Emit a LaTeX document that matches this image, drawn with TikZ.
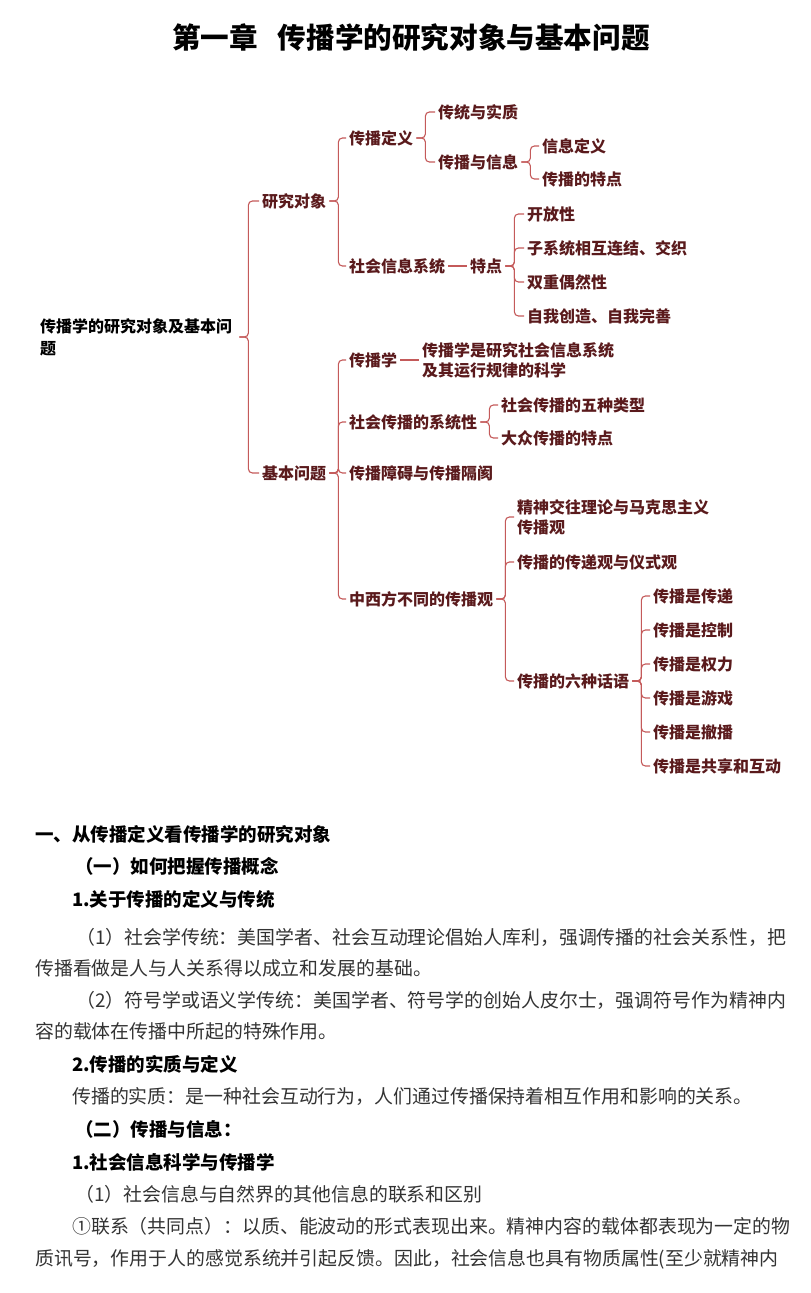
\documentclass[tikz,border=0pt]{standalone}
\usepackage{fontspec}
\setmainfont{Noto Sans CJK SC}
\definecolor{maroon}{HTML}{5A1A1C}
\definecolor{linkred}{HTML}{C45A5A}
\tikzset{topic/.style={anchor=west,inner sep=3pt,text=maroon,align=left,font=\fontsize{16}{20}\selectfont\bfseries},
 link/.style={draw=linkred,line width=1.1pt,rounded corners=4pt},
 heading/.style={anchor=west,inner sep=0pt,font=\fontsize{18.5}{22}\selectfont\bfseries},
 bodyline/.style={anchor=west,inner sep=0pt,text=black!80,font=\fontsize{18.9}{22}\selectfont}}

\begin{document}
\begin{tikzpicture}[x=1pt,y=-1pt]
 \useasboundingbox (0,0) rectangle (811,1293);
 \node[font=\fontsize{28.6}{30}\selectfont\bfseries] (title) at (411,38) {第一章\hspace{0.7em}传播学的研究对象与基本问题};

 % mind map
 \node[anchor=west,inner sep=3pt,align=left,font=\fontsize{16}{22}\selectfont\bfseries,text width=196pt] (root) at (37,337) {传播学的研究对象及基本问\\题};
 \node[topic] (obj) at (259,201) {研究对象};
 \node[topic] (basic) at (259,473) {基本问题};

 \node[topic] (defn) at (346,138) {传播定义};
 \node[topic] (socsys) at (346,266) {社会信息系统};
 \node[topic] (trad) at (435,112) {传统与实质};
 \node[topic] (cominfo) at (435,162) {传播与信息};
 \node[topic] (infodef) at (539,146) {信息定义};
 \node[topic] (comfeat) at (539,179) {传播的特点};
 \node[topic] (feat) at (467,266) {特点};
 \node[topic] (f1) at (524,214) {开放性};
 \node[topic] (f2) at (524,248) {子系统相互连结、交织};
 \node[topic] (f3) at (524,282) {双重偶然性};
 \node[topic] (f4) at (524,316) {自我创造、自我完善};

 \node[topic] (cx) at (346,360) {传播学};
 \node[topic] (cxdef) at (419,360) {传播学是研究社会信息系统\\及其运行规律的科学};
 \node[topic] (sys) at (346,422) {社会传播的系统性};
 \node[topic] (sys1) at (498,405) {社会传播的五种类型};
 \node[topic] (sys2) at (498,438) {大众传播的特点};
 \node[topic] (barrier) at (346,473) {传播障碍与传播隔阂};
 \node[topic] (views) at (346,599) {中西方不同的传播观};
 \node[topic] (v1) at (514,517) {精神交往理论与马克思主义\\传播观};
 \node[topic] (v2) at (514,562) {传播的传递观与仪式观};
 \node[topic] (v3) at (514,681) {传播的六种话语};
 \foreach \i/\y/\txt in {1/596/传递,2/630/控制,3/664/权力,4/698/游戏,5/732/撤播,6/766/共享和互动}
  \node[topic] (d\i) at (650,\y) {传播是\txt};

 \foreach \p/\c in {root/obj,root/basic,obj/defn,obj/socsys,defn/trad,defn/cominfo,
  cominfo/infodef,cominfo/comfeat,feat/f1,feat/f2,feat/f3,feat/f4,
  basic/cx,basic/sys,basic/barrier,basic/views,sys/sys1,sys/sys2,
  views/v1,views/v2,views/v3,v3/d1,v3/d2,v3/d3,v3/d4,v3/d5,v3/d6}
  \draw[link] (\p.east) -- ++(9,0) |- (\c.west);
 \draw[link] (socsys) -- (feat);
 \draw[link] (cx) -- (cxdef);

 % notes below
 \foreach \i/\x/\y/\txt in {1/35/834/一、从传播定义看传播学的研究对象,2/75/866/（一）如何把握传播概念,
  3/72/899/1.关于传播的定义与传统,4/72/1064/2.传播的实质与定义,5/75/1129/（二）传播与信息：,
  6/72/1162/1.社会信息科学与传播学}
  \node[heading] (h\i) at (\x,\y) {\txt};
 \foreach \i/\x/\y/\txt in {1/76/937/（1）社会学传统：美国学者、社会互动理论倡始人库利，强调传播的社会关系性，把,
  2/35/968/传播看做是人与人关系得以成立和发展的基础。,
  3/76/1000/（2）符号学或语义学传统：美国学者、符号学的创始人皮尔士，强调符号作为精神内,
  4/35/1031/容的载体在传播中所起的特殊作用。,
  5/72/1096/传播的实质：是一种社会互动行为，人们通过传播保持着相互作用和影响的关系。,
  6/75/1194/（1）社会信息与自然界的其他信息的联系和区别,
  7/72/1226/①联系（共同点）：以质、能波动的形式表现出来。精神内容的载体都表现为一定的物,
  8/35/1259/质讯号，作用于人的感觉系统并引起反馈。因此，社会信息也具有物质属性(至少就精神内}
  \node[bodyline] (b\i) at (\x,\y) {\txt};
\end{tikzpicture}
\end{document}
